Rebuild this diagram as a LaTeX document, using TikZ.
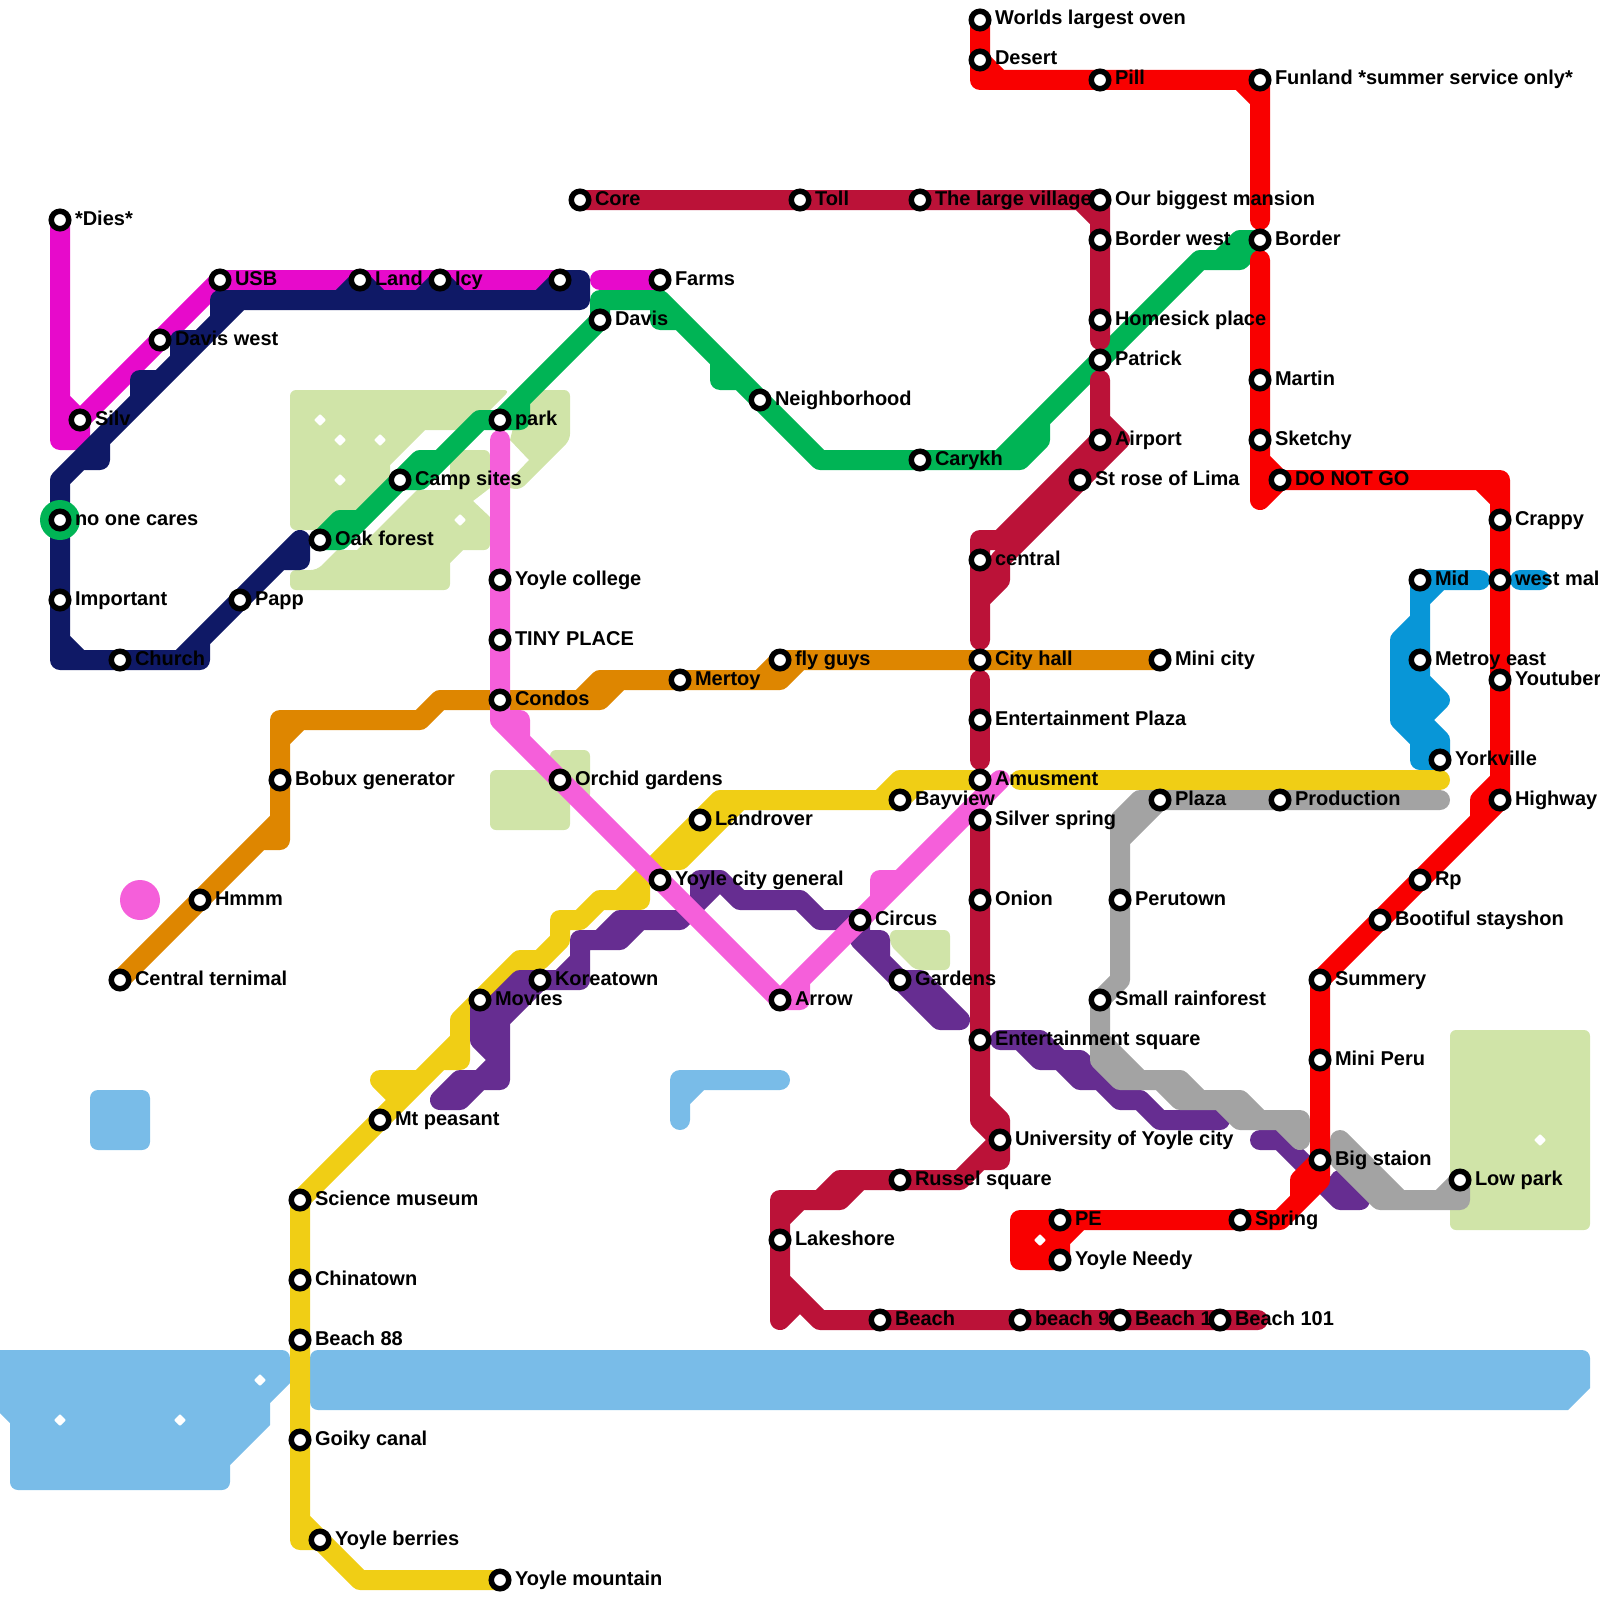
\documentclass[tikz,border=0pt]{standalone}
\usepackage{fontspec}
\setmainfont{Liberation Sans}
\pgfdeclarelayer{lines}
\pgfdeclarelayer{labels}
\pgfsetlayers{lines,labels,main}
\definecolor{lnMagenta}{HTML}{E70ACB}
\definecolor{lnNavy}{HTML}{0F1966}
\definecolor{lnGreen}{HTML}{00B455}
\definecolor{lnCrimson}{HTML}{BB1238}
\definecolor{lnRed}{HTML}{F90000}
\definecolor{lnOrange}{HTML}{DE8600}
\definecolor{lnYellow}{HTML}{F0CE15}
\definecolor{lnPurple}{HTML}{662D91}
\definecolor{lnGray}{HTML}{A3A3A3}
\definecolor{lnBlue}{HTML}{0896D7}
\definecolor{lnPink}{HTML}{F55FDA}
\definecolor{parkland}{HTML}{D0E4A8}
\definecolor{water}{HTML}{79BCE8}
\begin{document}
\begin{tikzpicture}[x=1pt,y=-1pt]
				\tikzset{stn/.style = {shape=circle, fill=white, draw=black, line width=5.5pt, inner sep=0pt, outer sep=0pt, minimum size=17.5pt}}
				\tikzset{lbl/.style = {anchor=base west, inner sep=0pt, outer sep=0pt, font=\fontsize{20}{24}\selectfont\bfseries}}
				\tikzset{track/.style = {line width=20pt, line cap=round, line join=round}}
				\tikzset{land/.style = {fill=parkland, rounded corners=6pt}}
				\tikzset{lake/.style = {fill=water, rounded corners=8pt}}
				\useasboundingbox (0,0) rectangle (1600,1600);
				\foreach \a/\x/\y/\t in {dies/60/220/*Dies*, silv/80/420/Silv, daviswest/160/340/Davis west, usb/220/280/USB,
					landst/360/280/Land, icy/440/280/Icy, hub/560/280/{}, farms/660/280/Farms,
					nocares/60/520/no one cares, important/60/600/Important, church/120/660/Church, papp/240/600/Papp,
					oak/320/540/Oak forest, camp/400/480/Camp sites, parkst/500/420/park, davis/600/320/Davis,
					neighborhood/760/400/Neighborhood, carykh/920/460/Carykh, patrick/1100/360/Patrick, border/1260/240/Border,
					core/580/200/Core, toll/800/200/Toll, village/920/200/The large village, mansion/1100/200/Our biggest mansion,
					borderw/1100/240/Border west, homesick/1100/320/Homesick place, airport/1100/440/Airport, strose/1080/480/St rose of Lima,
					central/980/560/central, cityhall/980/660/City hall, entplaza/980/720/Entertainment Plaza, amusment/980/780/Amusment,
					silver/980/820/Silver spring, onion/980/900/Onion, entsquare/980/1040/Entertainment square,
					university/1000/1140/University of Yoyle city, russel/900/1180/Russel square, lakeshore/780/1240/Lakeshore,
					beach/880/1320/Beach, beachn/1020/1320/beach 9, beachh/1120/1320/Beach 1, beachl/1220/1320/Beach 101,
					worlds/980/20/Worlds largest oven, desert/980/60/Desert, pill/1100/80/Pill, funland/1260/80/Funland *summer service only*,
					martin/1260/380/Martin, sketchy/1260/440/Sketchy, dng/1280/480/DO NOT GO, crappy/1500/520/Crappy,
					westmal/1500/580/west mal, youtuber/1500/680/Youtuber, highway/1500/800/Highway, rp/1420/880/Rp,
					bootiful/1380/920/Bootiful stayshon, summery/1320/980/Summery, miniperu/1320/1060/Mini Peru, big/1320/1160/Big staion,
					spring/1240/1220/Spring, pe/1060/1220/PE, needy/1060/1260/Yoyle Needy, lowpark/1460/1180/Low park,
					mid/1420/580/Mid, metroy/1420/660/Metroy east, yorkville/1440/760/Yorkville,
					plaza/1160/800/Plaza, production/1280/800/Production, perutown/1120/900/Perutown, small/1100/1000/Small rainforest,
					minicity/1160/660/Mini city, flyguys/780/660/fly guys, mertoy/680/680/Mertoy, condos/500/700/Condos,
					college/500/580/Yoyle college, tiny/500/640/TINY PLACE, orchid/560/780/Orchid gardens, general/660/880/Yoyle city general,
					arrow/780/1000/Arrow, circus/860/920/Circus, gardens/900/980/Gardens, bayview/900/800/Bayview, landrover/700/820/Landrover,
					koreatown/540/980/Koreatown, movies/480/1000/Movies, mtp/380/1120/Mt peasant, science/300/1200/Science museum,
					chinatown/300/1280/Chinatown, beacheight/300/1340/Beach 88, goiky/300/1440/Goiky canal, berries/320/1540/Yoyle berries,
					mountain/500/1580/Yoyle mountain, bobux/280/780/Bobux generator, hmmm/200/900/Hmmm, cterm/120/980/Central ternimal}{
					\begin{pgfonlayer}{labels}
						\node[lbl] (l\a) at (\x+15,\y+5) {\t};
					\end{pgfonlayer}
					\node[stn] (\a) at (\x,\y) {};
				}
				\foreach \a/\x/\y in {farmsW/600/280, navyEnd/280/560, crimA/1100/340, crimB/1100/380, crimC/980/640, crimD/980/680, crimE/980/760,
					crimF/1258/1320, redA/1260/220, redB/1260/260, yelA/1020/780, yelB/1440/780, purA/1000/1040, purB/1220/1120,
					purC/1260/1140, purD/1360/1200, grayA/1340/1140, grayB/1440/800, bluA/1480/580, bluB/1520/580, bluC/1540/580, pinkA/500/440, pinkB/1000/780}{
					\coordinate (\a) at (\x,\y);
				}
				\begin{pgfonlayer}{lines}
				\fill[land] (290,390) -- (510,390) [sharp corners] -- (470,430) -- (425,430) -- (390,465) -- (390,490) -- (330,530) [rounded corners=6pt] -- (290,530) -- cycle;
				\fill[land] (520,400) -- (530,390) -- (570,390) -- (570,440) -- (520,490) [sharp corners] -- (510,488) -- (510,480) -- (529,460) -- (510,440) -- cycle;
				\fill[land] (317,570) [sharp corners] -- (337,550) -- (357,550) -- (417,490) -- (450,490) [rounded corners=6pt] -- (450,450) -- (490,450) [sharp corners] -- (490,488) -- (473,501) -- (490,517) [rounded corners=6pt] -- (490,550) [sharp corners] -- (463,550) -- (450,563) [rounded corners=6pt] -- (450,590) -- (290,590) -- (290,570) -- cycle;
				\fill[land] (490,770) -- (550,770) -- (550,750) -- (590,750) -- (590,800) -- (570,800) -- (570,830) -- (490,830) -- cycle;
				\fill[land] (890,930) -- (950,930) -- (950,970) -- (915,970) -- (890,945) -- cycle;
				\fill[land] (1450,1030) -- (1590,1030) -- (1590,1230) -- (1450,1230) -- cycle;
				\fill[lake] (0,1350) -- (290,1350) [sharp corners] -- (290,1383) -- (270,1403) -- (270,1425) -- (230,1465) [rounded corners=8pt] -- (230,1490) -- (10,1490) [sharp corners] -- (10,1423) -- (0,1413) -- cycle;
				\fill[lake] (310,1350) -- (1590,1350) [sharp corners] -- (1590,1388) -- (1568,1410) [rounded corners=8pt] -- (310,1410) -- cycle;
				\fill[lake] (90,1090) -- (150,1090) -- (150,1150) -- (90,1150) -- cycle;
				\draw[track,water] (680,1120) -- (680,1080) -- (780,1080) (700,1080) -- (680,1100);
				\draw[track,lnMagenta] (dies.center) -- (60,440) -- (80,440) -- (silv.center) -- (60,400) (silv.center) -- (daviswest.center) -- (usb.center) -- (landst.center) -- (icy.center) -- (hub.center) (farmsW) -- (farms.center);
				\draw[track,lnNavy] (hub.center) -- (580,280) -- (580,300) -- (220,300) -- (220,320)
					(240,300) -- (60,480) -- (nocares.center) -- (important.center) -- (60,660) -- (church.center) -- (200,660) -- (200,640) -- (papp.center) -- (300,540) -- (300,560) -- (navyEnd)
					(340,300) -- (landst.center) -- (380,300) (420,300) -- (icy.center) -- (460,300) (540,300) -- (hub.center)
					(60,640) -- (80,660) (180,660) -- (200,640) (80,460) -- (100,460) -- (100,440) (140,400) -- (140,380) -- (160,380) (180,360) -- (180,340) -- (200,340);
				\fill[lnGreen] (nocares.center) circle[radius=20pt];
				\draw[track,lnGreen] (oak.center) -- (340,520) -- (360,520) -- (camp.center) -- (420,460) -- (440,460)
					(oak.center) -- (340,540) -- (camp.center) -- (420,480) -- (480,420) -- (parkst.center) -- (520,420) -- (520,400)
					(parkst.center) -- (davis.center) -- (600,300) -- (660,300) -- (neighborhood.center) -- (820,460) -- (carykh.center) -- (1020,460) -- (1040,440) -- (1040,420)
					(1000,460) -- (patrick.center) -- (1200,260) -- (1240,260) -- (border.center) -- (1240,240) -- (1220,260)
					(660,300) -- (660,320) -- (680,320) (720,360) -- (720,380) -- (740,380);
				\draw[track,lnCrimson] (core.center) -- (toll.center) -- (village.center) -- (mansion.center) -- (borderw.center) -- (homesick.center) -- (crimA)
					(1080,200) -- (1100,220);
				\draw[track,lnCrimson] (crimB) -- (airport.center) -- (1000,540) -- (980,540) -- (central.center) -- (crimC)
					(1100,420) -- (1120,440) -- (strose.center) -- (1000,560) -- (1000,580) -- (980,600);
				\draw[track,lnCrimson] (crimD) -- (entplaza.center) -- (crimE);
				\draw[track,lnCrimson] (silver.center) -- (onion.center) -- (entsquare.center) -- (980,1120) -- (university.center) -- (960,1180) -- (russel.center) -- (840,1180) -- (820,1200) -- (780,1200) -- (lakeshore.center) -- (780,1320) -- (800,1300)
					(980,1100) -- (1000,1120) -- (1000,1160) -- (980,1160)
					(860,1180) -- (840,1200) -- (800,1200) -- (780,1220)
					(780,1280) -- (820,1320) -- (beach.center) -- (beachn.center) -- (beachh.center) -- (beachl.center) -- (crimF);
				\draw[track,lnOrange] (cterm.center) -- (hmmm.center) -- (260,840) -- (280,840) -- (bobux.center) -- (280,720) -- (420,720) -- (440,700) -- (condos.center) -- (600,700) -- (620,680) -- (mertoy.center) -- (780,680) -- (800,660) -- (cityhall.center) -- (minicity.center)
					(260,840) -- (280,820) (300,720) -- (280,740) (580,700) -- (600,680) -- (620,680) (760,680) -- (flyguys.center) -- (800,660);
				\draw[track,lnBlue] (mid.center) -- (bluA) (1440,580) -- (1420,600) (1420,620) -- (1400,640) -- (1400,720) -- (1420,740)
					(mid.center) -- (metroy.center) -- (1420,760) -- (yorkville.center) -- (1440,740) -- (1420,720) -- (1440,700) -- (1420,680)
					(bluB) -- (bluC);
				\draw[track,lnYellow] (mountain.center) -- (360,1580) -- (berries.center) -- (300,1540) -- (goiky.center) -- (beacheight.center) -- (chinatown.center) -- (science.center) -- (mtp.center) -- (460,1040) -- (460,1060) -- (440,1060)
					(300,1520) -- (berries.center) (380,1080) -- (420,1080) (380,1080) -- (400,1100)
					(460,1040) -- (460,1020) -- (movies.center) -- (520,960) -- (540,960) -- (560,940) -- (560,920) -- (580,920) -- (600,900) -- (620,900) -- (landrover.center) -- (720,800) -- (bayview.center) -- (920,780) -- (amusment.center)
					(600,900) -- (640,900) -- (640,880) (740,800) -- (680,860) -- (660,860) (880,800) -- (900,780) -- (920,780);
				\draw[track,lnYellow] (yelA) -- (yelB);
				\draw[track,lnPurple] (movies.center) -- (480,1040) -- (500,1060) -- (480,1080) -- (460,1100) -- (440,1100) -- (460,1080) -- (500,1080) -- (500,1020) -- (koreatown.center) -- (580,980) -- (580,940) -- (620,940) -- (640,920) -- (680,920) -- (720,880) -- (700,880) -- (700,900)
					(480,1020) -- (520,980) -- (koreatown.center) (580,960) -- (560,980) (600,940) -- (620,920) -- (640,920)
					(720,880) -- (740,900) -- (800,900) -- (820,920) -- (circus.center) -- (860,940) -- (880,940) -- (880,960)
					(860,940) -- (gardens.center) -- (940,1020) -- (960,1020) -- (920,980) -- (gardens.center);
				\draw[track,lnPurple] (purA) -- (1040,1040) -- (1060,1060) -- (1080,1060) -- (1120,1100) -- (1140,1100) -- (1160,1120) -- (purB)
					(1020,1040) -- (1040,1060) -- (1060,1060) -- (1080,1080) -- (1100,1080);
				\draw[track,lnPurple] (purC) -- (1280,1140) -- (1340,1200) -- (purD) -- (1340,1180) -- (1340,1200);
				\draw[track,lnGray] (grayB) -- (production.center) -- (plaza.center) -- (1120,840) -- (perutown.center) -- (1120,980) -- (small.center) -- (1100,1040) -- (1140,1080) -- (1180,1080) -- (1200,1100) -- (1240,1100) -- (1260,1120) -- (1300,1120) -- (1300,1140) -- (1280,1120) -- (1240,1120) -- (1220,1100) -- (1180,1100) -- (1160,1080) -- (1120,1080) -- (1100,1060)
					(small.center) -- (1100,1060) (plaza.center) -- (1140,800) -- (1120,820) -- (1120,840);
				\draw[track,lnGray] (grayA) -- (1340,1160) -- (1380,1200) -- (1460,1200) -- (lowpark.center) -- (1440,1200) (grayA) -- (1400,1200);
				\draw[track,lnRed] (worlds.center) -- (desert.center) -- (980,80) -- (pill.center) -- (funland.center) -- (redA)
					(desert.center) -- (1000,80) (1240,80) -- (1260,100);
				\draw[track,lnRed] (redB) -- (martin.center) -- (sketchy.center) -- (1260,500) -- (dng.center) -- (1500,480) -- (crappy.center) -- (westmal.center) -- (youtuber.center) -- (highway.center) -- (rp.center) -- (bootiful.center) -- (summery.center) -- (miniperu.center) -- (big.center) -- (1320,1180) -- (1280,1220) -- (spring.center) -- (pe.center) -- (1020,1220) -- (1020,1260) -- (needy.center)
					(1260,460) -- (dng.center) (1480,480) -- (1500,500) (1500,780) -- (1480,800) -- (1480,820)
					(big.center) -- (1300,1180) -- (1300,1200) (1080,1220) -- (1060,1240) -- (needy.center) (1020,1240) -- (1060,1240);
				\draw[track,lnPink] (pinkA) -- (college.center) -- (tiny.center) -- (condos.center) -- (500,720) -- (520,720) -- (520,740)
					(500,720) -- (orchid.center) -- (general.center) -- (arrow.center) -- (800,1000) -- (800,980) -- (arrow.center)
					(800,980) -- (circus.center) -- (pinkB) (880,900) -- (880,880) -- (900,880);
				\fill[lnPink] (140,900) circle[radius=20pt];
				\foreach \x/\y in {320/420, 340/440, 380/440, 340/480, 460/520, 60/1420, 180/1420, 260/1380, 1540/1140, 1040/1240}{
					\fill[white, rounded corners=1pt] (\x-6,\y) -- (\x,\y-6) -- (\x+6,\y) -- (\x,\y+6) -- cycle;
				}
				\end{pgfonlayer}
			\end{tikzpicture}
\end{document}
